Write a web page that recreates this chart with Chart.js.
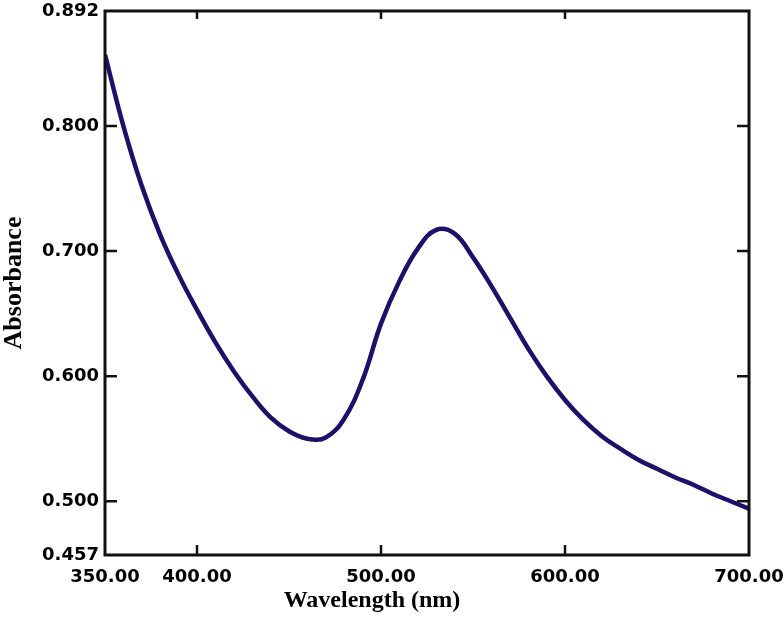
<!DOCTYPE html>
<html lang="en">
<head>
    <script src="https://cdn.jsdelivr.net/npm/chart.js@4/dist/chart.umd.min.js"></script>
    <style>
        html, body { margin: 0; padding: 0; background: #fff; }
        #canvas-container { position: relative; width: 784px; height: 618px; }
    </style>
</head>
<body>

<div id="canvas-container">
    <canvas id="absorbance-chart"></canvas>
</div>

<script>
    // values
    const wavelength = [350, 360, 370, 380, 390, 400, 410, 420, 430, 440, 450, 460, 470, 480, 490, 500,
                        510, 520, 530, 540, 550, 560, 570, 580, 590, 600, 610, 620, 630, 640, 650, 660, 670, 680, 690, 700];
    const absorbance = [0.857, 0.800, 0.752, 0.713, 0.681, 0.653, 0.627, 0.604, 0.584, 0.567, 0.556, 0.550, 0.551, 0.566, 0.597, 0.642,
                        0.676, 0.702, 0.717, 0.714, 0.695, 0.672, 0.647, 0.622, 0.600, 0.581, 0.565, 0.552, 0.542, 0.533, 0.526, 0.519, 0.513, 0.506, 0.500, 0.494];
    const xTicks = [350, 400, 500, 600, 700];
    const yTicks = [0.457, 0.5, 0.6, 0.7, 0.8, 0.892];
    const innerTicks = [400, 500, 600];
    const innerYTicks = [0.5, 0.6, 0.7, 0.8];

    const points = wavelength.map((w, i) => ({x: w, y: absorbance[i]}));

    // frame, inward ticks and axis titles
    const framePlugin = {
        id: "frame",
        afterDraw(chart) {
            const ctx = chart.ctx;
            const a = chart.chartArea;
            const xs = chart.scales.x, ys = chart.scales.y;
            ctx.save();
            ctx.strokeStyle = "#111";
            ctx.lineWidth = 3;
            ctx.strokeRect(a.left, a.top, a.right - a.left, a.bottom - a.top);
            ctx.lineWidth = 2.5;
            ctx.beginPath();
            innerTicks.forEach(v => {
                const px = xs.getPixelForValue(v);
                ctx.moveTo(px, a.bottom); ctx.lineTo(px, a.bottom - 10);
                ctx.moveTo(px, a.top); ctx.lineTo(px, a.top + 8);
            });
            innerYTicks.forEach(v => {
                const py = ys.getPixelForValue(v);
                ctx.moveTo(a.left, py); ctx.lineTo(a.left + 12, py);
                ctx.moveTo(a.right, py); ctx.lineTo(a.right - 12, py);
            });
            ctx.stroke();

            ctx.fillStyle = "#000";
            ctx.font = "bold 24px 'Liberation Serif'";
            ctx.textAlign = "center";
            ctx.textBaseline = "alphabetic";
            ctx.fillText("Wavelength (nm)", a.left + 267, a.bottom + 52);

            ctx.translate(14, (a.top + a.bottom) / 2);
            ctx.rotate(-Math.PI / 2);
            ctx.font = "bold 26px 'Liberation Serif'";
            ctx.textBaseline = "middle";
            ctx.fillText("Absorbance", 0, 0);
            ctx.restore();
        }
    };

    const canvas = document.getElementById("absorbance-chart");
    const ctx = canvas.getContext("2d");

    const ch = new Chart(ctx, {
        type: "line",
        data: {
            datasets: [
                {
                    label: "Absorbance",
                    data: points,
                    borderColor: "#1b1168",
                    borderWidth: 4.5,
                    pointRadius: 0,
                    tension: 0.4,
                    fill: false
                }
            ]
        },
        options: {
            responsive: true,
            maintainAspectRatio: false,
            animation: false,
            layout: { padding: { top: 11, right: 35, left: 0, bottom: 0 } },
            plugins: {
                legend: { display: false },
                tooltip: { enabled: false }
            },
            scales: {
                x: {
                    type: "linear",
                    min: 350,
                    max: 700,
                    grid: { display: false, drawTicks: false },
                    border: { display: false },
                    afterBuildTicks: s => { s.ticks = xTicks.map(v => ({value: v})); },
                    afterFit: s => { s.height = 63; s.paddingLeft = 0; s.paddingRight = 0; },
                    ticks: {
                        autoSkip: false,
                        maxRotation: 0,
                        padding: 12,
                        color: "#000",
                        font: { family: "DejaVu Sans", size: 18, weight: "bold" },
                        callback: v => v.toFixed(2)
                    }
                },
                y: {
                    type: "linear",
                    min: 0.457,
                    max: 0.892,
                    grid: { display: false, drawTicks: false },
                    border: { display: false },
                    afterBuildTicks: s => { s.ticks = yTicks.map(v => ({value: v})); },
                    afterFit: s => { s.width = 105; s.paddingTop = 0; s.paddingBottom = 0; },
                    ticks: {
                        autoSkip: false,
                        padding: 6,
                        color: "#000",
                        font: { family: "DejaVu Sans", size: 18, weight: "bold" },
                        callback: v => v.toFixed(3)
                    }
                }
            }
        },
        plugins: [framePlugin]
    });
</script>

</body>
</html>
